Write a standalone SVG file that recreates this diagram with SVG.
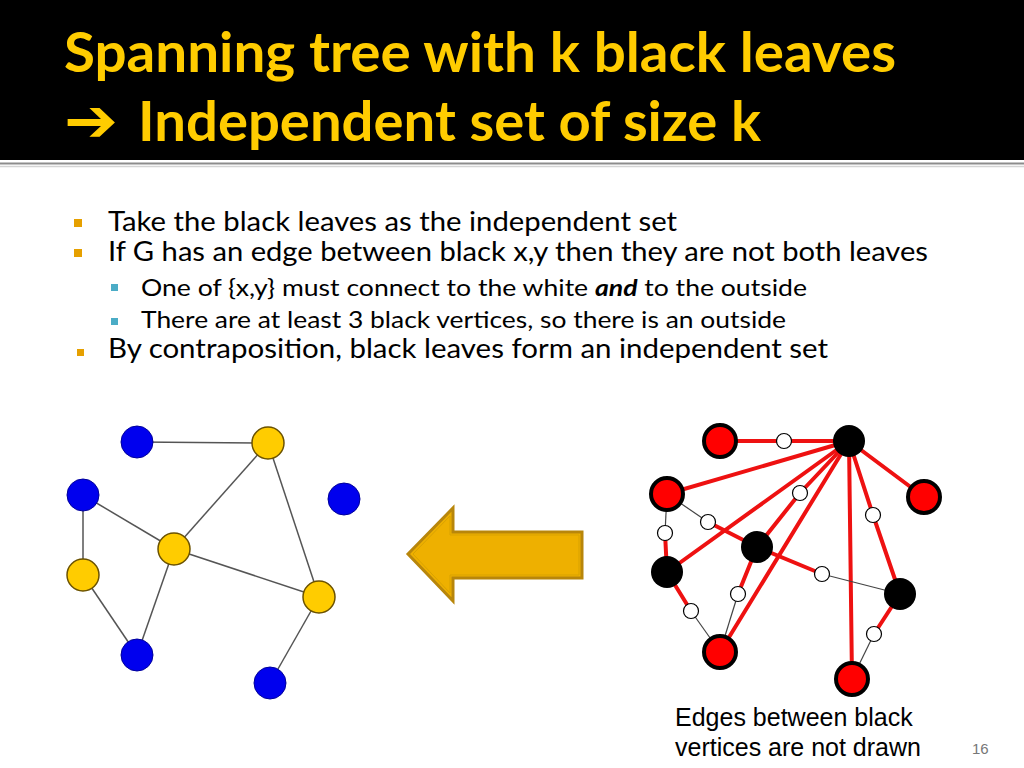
<svg xmlns="http://www.w3.org/2000/svg" width="1024" height="768" viewBox="0 0 1024 768">
<style>
.title{font-family:Lato,"Open Sans","Liberation Sans",sans-serif;font-weight:bold;font-size:56px;fill:#FFCC00}
.b1{font-family:Lato,"Open Sans","Liberation Sans",sans-serif;font-size:26px;fill:#000}
.b2{font-family:Lato,"Open Sans","Liberation Sans",sans-serif;font-size:23px;fill:#000}
.cap{font-family:"Liberation Sans",Arial,sans-serif;font-size:25px;fill:#000}
.num{font-family:"Liberation Sans",Arial,sans-serif;font-size:15px;fill:#777}
.e{stroke:#555;stroke-width:1.5;fill:none}
.re{stroke:#EE1111;stroke-width:4;fill:none;stroke-linecap:round}
.te{stroke:#444;stroke-width:1.2;fill:none}
.blue{fill:#0000EE;stroke:#00009A;stroke-width:1}
.yel{fill:#FFCC00;stroke:#6B5200;stroke-width:1.5}
.red{fill:#FF0000;stroke:#000;stroke-width:4}
.blk{fill:#000}
.wht{fill:#fff;stroke:#000;stroke-width:1.2}
.mb{fill:#E6A000}
.sb{fill:#4BACC6}
</style>
<rect x="0" y="0" width="1024" height="768" fill="#fff"/>
<rect x="0" y="0" width="1024" height="160" fill="#000"/>
<line x1="0" y1="163.5" x2="1024" y2="163.5" stroke="#8c8c8c" stroke-width="2"/>
<line x1="0" y1="166.5" x2="1024" y2="166.5" stroke="#d4d4d4" stroke-width="1.5"/>
<g id="title">
<text class="title" x="64" y="72" textLength="832" lengthAdjust="spacingAndGlyphs">Spanning tree with k black leaves</text>
<text x="64" y="141" style="font-family:'DejaVu Sans',sans-serif;font-weight:bold;font-size:60px;fill:#FFCC00" textLength="54" lengthAdjust="spacingAndGlyphs">➔</text>
<text class="title" x="138" y="141" textLength="623" lengthAdjust="spacingAndGlyphs">Independent set of size k</text>
</g>
<g id="bullets">
<rect class="mb" x="74" y="219" width="8" height="8"/>
<text class="b1" x="108" y="231" textLength="569" lengthAdjust="spacingAndGlyphs">Take the black leaves as the independent set</text>
<rect class="mb" x="74" y="249" width="8" height="8"/>
<text class="b1" x="108" y="261" textLength="820" lengthAdjust="spacingAndGlyphs">If G has an edge between black x,y then they are not both leaves</text>
<rect class="sb" x="111" y="284" width="7" height="7"/>
<text class="b2" x="141" y="296" textLength="666" lengthAdjust="spacingAndGlyphs">One of {x,y} must connect to the white <tspan font-weight="bold" font-style="italic">and</tspan> to the outside</text>
<rect class="sb" x="111" y="318" width="7" height="7"/>
<text class="b2" x="141" y="328" textLength="645" lengthAdjust="spacingAndGlyphs">There are at least 3 black vertices, so there is an outside</text>
<rect class="mb" x="77" y="349" width="7" height="7"/>
<text class="b1" x="108" y="358" textLength="720" lengthAdjust="spacingAndGlyphs">By contraposition, black leaves form an independent set</text>
</g>
<g id="left-edges">
<line class="e" x1="137" y1="442" x2="268" y2="443"/>
<line class="e" x1="83" y1="495" x2="83" y2="575"/>
<line class="e" x1="83" y1="495" x2="174" y2="549"/>
<line class="e" x1="268" y1="443" x2="174" y2="549"/>
<line class="e" x1="268" y1="443" x2="319" y2="597"/>
<line class="e" x1="174" y1="549" x2="319" y2="597"/>
<line class="e" x1="174" y1="549" x2="137" y2="655"/>
<line class="e" x1="83" y1="575" x2="137" y2="655"/>
<line class="e" x1="319" y1="597" x2="270" y2="683"/>
</g>
<g id="left-nodes">
<circle id="L-bt" class="blue" cx="137" cy="442" r="16"/>
<circle id="L-yt" class="yel" cx="268" cy="443" r="16"/>
<circle id="L-bl" class="blue" cx="83" cy="495" r="16"/>
<circle id="L-br" class="blue" cx="344" cy="499" r="16"/>
<circle id="L-yc" class="yel" cx="174" cy="549" r="16"/>
<circle id="L-yl" class="yel" cx="83" cy="575" r="16"/>
<circle id="L-yr" class="yel" cx="319" cy="597" r="16"/>
<circle id="L-bbl" class="blue" cx="137" cy="655" r="16"/>
<circle id="L-bbr" class="blue" cx="270" cy="683" r="16"/>
</g>
<g id="big-arrow">
<polygon points="408,554 453,508 453,532 582,532 582,578 453,578 453,601" fill="#EEB000" stroke="#B8860B" stroke-width="3" stroke-linejoin="miter"/>
<polygon points="413,554 450,516 450,535 579,535 579,575 450,575 450,593" fill="none" stroke="#D9A200" stroke-width="1"/>
</g>
<g id="right-edges">
<line class="re" x1="720" y1="441" x2="849" y2="441"/>
<line class="re" x1="849" y1="441" x2="667" y2="494"/>
<line class="re" x1="849" y1="441" x2="924" y2="497"/>
<line class="re" x1="849" y1="441" x2="667" y2="572"/>
<line class="re" x1="849" y1="441" x2="800" y2="493"/>
<line class="re" x1="800" y1="493" x2="757" y2="547"/>
<line class="re" x1="849" y1="441" x2="720" y2="652"/>
<line class="re" x1="849" y1="441" x2="852" y2="679"/>
<line class="re" x1="849" y1="441" x2="873" y2="515"/>
<line class="re" x1="873" y1="515" x2="900" y2="594"/>
<line class="te" x1="667" y1="494" x2="708" y2="522"/>
<line class="re" x1="708" y1="522" x2="757" y2="547"/>
<line class="re" x1="757" y1="547" x2="822" y2="574"/>
<line class="te" x1="822" y1="574" x2="900" y2="594"/>
<line class="te" x1="667" y1="494" x2="665" y2="533"/>
<line class="re" x1="665" y1="533" x2="667" y2="572"/>
<line class="re" x1="667" y1="572" x2="691" y2="611"/>
<line class="te" x1="691" y1="611" x2="720" y2="652"/>
<line class="re" x1="757" y1="547" x2="738" y2="594"/>
<line class="te" x1="738" y1="594" x2="720" y2="652"/>
<line class="re" x1="900" y1="594" x2="874" y2="634"/>
<line class="te" x1="874" y1="634" x2="852" y2="679"/>
</g>
<g id="right-nodes">
<circle id="R-rtl" class="red" cx="720" cy="441" r="16"/>
<circle id="R-kt" class="blk" cx="849" cy="441" r="16"/>
<circle id="R-rl" class="red" cx="667" cy="494" r="16"/>
<circle id="R-rr" class="red" cx="924" cy="497" r="16"/>
<circle id="R-kc" class="blk" cx="757" cy="547" r="16"/>
<circle id="R-kl" class="blk" cx="667" cy="572" r="16"/>
<circle id="R-kr" class="blk" cx="900" cy="594" r="16"/>
<circle id="R-rbl" class="red" cx="720" cy="652" r="16"/>
<circle id="R-rb" class="red" cx="852" cy="679" r="16"/>
<circle id="R-w1" class="wht" cx="784" cy="441" r="7.5"/>
<circle id="R-w2" class="wht" cx="800" cy="493" r="7.5"/>
<circle id="R-w3" class="wht" cx="708" cy="522" r="7.5"/>
<circle id="R-w4" class="wht" cx="665" cy="533" r="7.5"/>
<circle id="R-w5" class="wht" cx="873" cy="515" r="7.5"/>
<circle id="R-w6" class="wht" cx="822" cy="574" r="7.5"/>
<circle id="R-w7" class="wht" cx="738" cy="594" r="7.5"/>
<circle id="R-w8" class="wht" cx="691" cy="611" r="7.5"/>
<circle id="R-w9" class="wht" cx="874" cy="634" r="7.5"/>
</g>
<g id="caption">
<text class="cap" x="675" y="726">Edges between black</text>
<text class="cap" x="675" y="756">vertices are not drawn</text>
<text class="num" x="972" y="754">16</text>
</g>
</svg>
